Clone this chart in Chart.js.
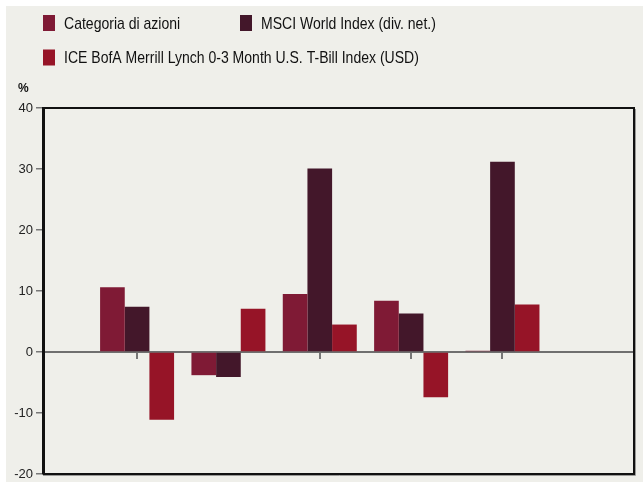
<!DOCTYPE html>
<html>
<head>
<meta charset="utf-8">
<script src="https://cdn.jsdelivr.net/npm/chart.js@4.4.0/dist/chart.umd.min.js"></script>
<style>
  html, body { margin: 0; padding: 0; background: #ffffff; width: 643px; height: 482px; overflow: hidden; }
  #bg { position: absolute; left: 6px; top: 6px; right: 0; bottom: 0; background: #efefea; }
  #chart { position: absolute; left: 0; top: 0; }
</style>
</head>
<body>
<div id="bg"></div>
<canvas id="chart" width="643" height="482"></canvas>
<script>
// Werte (Prozent)
const periods = [1, 2, 3, 4, 5];
const seriesNames = [
  'Categoria di azioni',
  'MSCI World Index (div. net.)',
  'ICE BofA Merrill Lynch 0-3 Month U.S. T-Bill Index (USD)'
];
const fundValues  = [10.6, -3.8, 9.5, 8.4, 0.2];
const msciValues  = [7.4, -4.1, 30.1, 6.3, 31.2];
const tbillValues = [-11.1, 7.1, 4.5, -7.4, 7.8];
const yTicks = [-20, -10, 0, 10, 20, 30, 40];
const unitLabel = '%';
const seriesColors = ['#7f1a35', '#43172a', '#961427'];

const fontFamily = "'Liberation Sans', Arial, sans-serif";

function toPoints(values) {
  return periods.map((p, i) => ({ x: p, y: values[i] }));
}

// Kopfbereich: Legende (schmale Schrift) und Einheit "%"
const header = {
  id: 'header',
  beforeInit(chart) {
    const slots = [
      { x: 43, y: 15 },
      { x: 240, y: 15 },
      { x: 43, y: 49.5 }
    ];
    const box = {
      position: 'top',
      weight: 100,
      fullSize: true,
      options: {},
      left: 0, top: 0, right: 0, bottom: 0, width: 0, height: 0,
      isHorizontal() { return true; },
      update(maxWidth) {
        this.width = maxWidth;
        this.height = 108;
        return { width: this.width, height: this.height };
      },
      draw() {
        const ctx = chart.ctx;
        ctx.save();
        chart.data.datasets.forEach((ds, i) => {
          const s = slots[i];
          ctx.fillStyle = ds.backgroundColor;
          ctx.fillRect(s.x, s.y, 12, 16);
          ctx.save();
          ctx.translate(s.x + 21, s.y + 13.5);
          ctx.scale(0.825, 1);
          ctx.font = '17px ' + fontFamily;
          ctx.fillStyle = '#111';
          ctx.textBaseline = 'alphabetic';
          ctx.fillText(ds.label, 0, 0);
          ctx.restore();
        });
        ctx.font = 'bold 12px ' + fontFamily;
        ctx.fillStyle = '#111';
        ctx.fillText(unitLabel, 18, 92);
        ctx.restore();
      }
    };
    Chart.layouts.addBox(chart, box);
  }
};

// Rahmen um die Zeichenfläche (mit leichtem Schatten unten/rechts)
const frame = {
  id: 'frame',
  afterDatasetsDraw(chart) {
    const a = chart.chartArea;
    const ctx = chart.ctx;
    ctx.save();
    ctx.strokeStyle = '#9a9a98';
    ctx.lineWidth = 1;
    ctx.beginPath();
    ctx.moveTo(a.left, a.bottom + 1.5);
    ctx.lineTo(a.right + 1.5, a.bottom + 1.5);
    ctx.lineTo(a.right + 1.5, a.top + 1);
    ctx.stroke();
    ctx.strokeStyle = '#111';
    ctx.lineWidth = 2;
    ctx.strokeRect(a.left + 1, a.top, a.right - a.left - 1, a.bottom - a.top);
    ctx.restore();
  }
};

const ctx = document.querySelector('#chart');

new Chart(ctx, {
  type: 'bar',
  data: {
    datasets: [
      { label: seriesNames[0], data: toPoints(fundValues), backgroundColor: seriesColors[0] },
      { label: seriesNames[1], data: toPoints(msciValues), backgroundColor: seriesColors[1] },
      { label: seriesNames[2], data: toPoints(tbillValues), backgroundColor: seriesColors[2] }
    ]
  },
  options: {
    responsive: false,
    animation: false,
    events: [],
    layout: { padding: { left: 0, right: 9, top: 0, bottom: 8 } },
    datasets: {
      bar: { categoryPercentage: 0.81, barPercentage: 1.0, borderWidth: 0 }
    },
    scales: {
      x: {
        type: 'linear',
        offset: false,
        min: -0.03,
        max: 6.44,
        position: { y: 0 },
        afterBuildTicks: (scale) => { scale.ticks = periods.map(v => ({ value: v })); },
        ticks: { display: false },
        grid: { offset: false, drawOnChartArea: false, drawTicks: true, tickLength: 6, color: '#777', lineWidth: 2 },
        border: { display: true, color: '#6f6f6f', width: 2, dash: [3, 1] }
      },
      y: {
        min: -20,
        max: 40,
        afterFit: (scale) => {
          scale.width = 43;
          scale.paddingTop = 0;
          scale.paddingBottom = 0;
        },
        afterBuildTicks: (scale) => { scale.ticks = yTicks.map(v => ({ value: v })); },
        ticks: { color: '#222', font: { family: fontFamily, size: 13 }, padding: 3 },
        grid: { drawOnChartArea: false, drawTicks: true, tickLength: 7, color: '#777', lineWidth: 1.5 },
        border: { display: true, color: '#111', width: 2 }
      }
    },
    plugins: {
      tooltip: { enabled: false },
      legend: { display: false }
    }
  },
  plugins: [header, frame]
});
</script>
</body>
</html>
